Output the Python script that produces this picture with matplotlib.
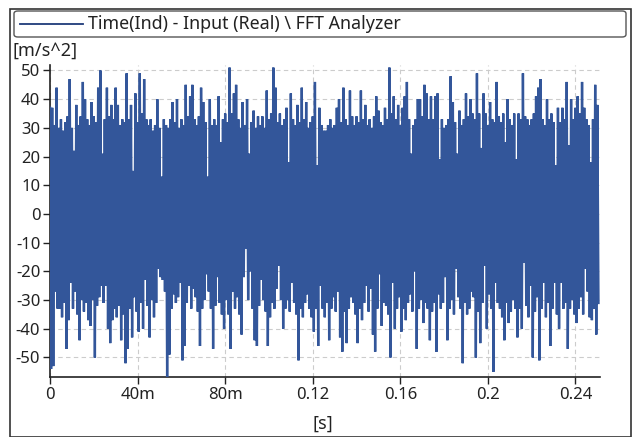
import numpy as np
import matplotlib
matplotlib.use("Agg")
import matplotlib.pyplot as plt
from matplotlib.patches import FancyBboxPatch, Rectangle
from matplotlib.lines import Line2D

# ---- data (1 ms bins) ----
upper = [37, 37, 31, 44, 30, 33, 29, 32, 34, 47, 30, 22, 38, 31, 34, 46, 40, 33, 31, 39,
         34, 32, 44, 50, 21, 33, 44, 34, 38, 33, 44, 38, 31, 33, 32, 49, 33, 38, 15, 42,
         32, 49, 35, 47, 33, 31, 33, 29, 31, 40, 30, 13, 33, 31, 30, 33, 39, 32, 40, 30,
         33, 31, 45, 34, 41, 45, 33, 31, 34, 44, 39, 32, 13, 40, 31, 33, 31, 41, 25, 33,
         35, 32, 51, 35, 42, 45, 33, 30, 39, 31, 40, 21, 32, 36, 30, 34, 31, 34, 30, 43,
         33, 35, 51, 44, 32, 35, 31, 33, 37, 18, 42, 33, 31, 38, 32, 44, 33, 39, 30, 32,
         34, 46, 17, 37, 31, 29, 29, 31, 33, 30, 31, 37, 40, 32, 44, 33, 31, 43, 34, 31,
         34, 32, 43, 33, 38, 31, 33, 30, 34, 41, 36, 32, 31, 37, 33, 51, 35, 41, 33, 38,
         31, 37, 41, 46, 33, 21, 31, 33, 40, 40, 34, 45, 42, 33, 41, 33, 41, 42, 19, 33,
         30, 31, 33, 48, 39, 32, 21, 36, 31, 33, 42, 34, 40, 35, 33, 49, 35, 23, 42, 35,
         31, 39, 33, 32, 46, 34, 32, 35, 25, 40, 33, 31, 35, 19, 35, 33, 49, 34, 33, 31,
         33, 35, 41, 44, 47, 33, 31, 40, 33, 35, 32, 17, 37, 32, 37, 33, 46, 24, 40, 33,
         37, 41, 35, 46, 37, 33, 31, 18, 33, 45, 38]
lower = [-54, -53, -27, -33, -33, -36, -31, -47, -37, -24, -33, -27, -35, -44, -30, -34, -31, -37, -39, -30,
         -50, -32, -29, -25, -31, -25, -40, -45, -37, -33, -36, -32, -44, -35, -52, -47, -33, -43, -29, -34,
         -41, -31, -40, -23, -32, -43, -30, -36, -31, -19, -22, -23, -27, -57, -49, -33, -28, -31, -29, -24,
         -51, -46, -31, -25, -33, -26, -29, -34, -46, -33, -30, -21, -27, -33, -47, -32, -22, -31, -35, -40,
         -30, -35, -47, -27, -33, -29, -35, -42, -22, -12, -30, -20, -33, -44, -46, -32, -23, -30, -34, -46,
         -36, -31, -33, -26, -18, -30, -40, -33, -30, -34, -24, -31, -35, -51, -33, -36, -31, -28, -33, -36,
         -41, -33, -46, -25, -33, -36, -31, -44, -33, -29, -34, -27, -43, -48, -34, -45, -33, -29, -31, -35,
         -45, -33, -37, -31, -25, -34, -26, -42, -48, -33, -21, -39, -31, -32, -35, -50, -24, -40, -33, -29,
         -41, -33, -37, -31, -28, -34, -20, -47, -33, -30, -38, -31, -33, -44, -34, -31, -48, -28, -33, -31,
         -22, -44, -33, -30, -35, -19, -29, -33, -52, -31, -35, -33, -27, -29, -50, -34, -45, -31, -18, -40,
         -28, -33, -55, -24, -31, -33, -36, -44, -31, -38, -34, -30, -33, -43, -33, -40, -17, -32, -36, -25,
         -50, -34, -29, -51, -33, -24, -36, -31, -46, -33, -24, -35, -40, -24, -33, -31, -47, -33, -30, -35,
         -38, -33, -29, -35, -19, -27, -36, -37, -33, -42, -31]
bin_ms = 1.0
x_ticks = [0, 0.04, 0.08, 0.12, 0.16, 0.2, 0.24]
x_ticklabels = ["0", "40m", "80m", "0.12", "0.16", "0.2", "0.24"]
y_ticks = [50, 40, 30, 20, 10, 0, -10, -20, -30, -40, -50]
legend_label = "Time(Ind) - Input (Real) \\ FFT Analyzer"

# ---- build sample sequence from the read extremes ----
n = len(upper)
t_hi = np.arange(n) * bin_ms / 1000.0
t_lo = t_hi + bin_ms / 2000.0
t = np.empty(2 * n)
y = np.empty(2 * n)
t[0::2] = t_hi
t[1::2] = t_lo
y[0::2] = upper
y[1::2] = lower

plt.rcParams['font.family'] = ['Noto Sans', 'DejaVu Sans']
W, H = 638, 437
fig = plt.figure(figsize=(W / 100, H / 100), dpi=100)
fig.patch.set_facecolor('white')

ax = fig.add_axes([50 / W, 1 - 377 / H, 550 / W, 312 / H])
ax.set_xlim(0, 0.2512)
ax.set_ylim(-56.8, 51.9)
ax.plot(t, y, color='#33569a', lw=1.7, zorder=3, solid_joinstyle='miter')

for s in ['top', 'right']:
    ax.spines[s].set_visible(False)
for s in ['left', 'bottom']:
    ax.spines[s].set_color('#222222')
    ax.spines[s].set_linewidth(1.2)
ax.set_xticks(x_ticks)
ax.set_xticklabels(x_ticklabels)
ax.set_yticks(y_ticks)
ax.set_yticklabels([str(v) for v in y_ticks])
ax.tick_params(axis='both', direction='out', length=5, width=1, color='#222222',
               labelsize=12, labelcolor='#222222', pad=2)
ax.grid(True, color='#cccccc', linestyle=(0, (4, 3)), linewidth=0.8, zorder=0)
ax.set_axisbelow(True)

fig.text(12 / W, 1 - 51 / H, "[m/s^2]", fontsize=13, color='#222222', va='center', ha='left')
fig.text(323 / W, 1 - 424 / H, "[s]", fontsize=13, color='#222222', va='center', ha='center')

# legend box
box = FancyBboxPatch((14 / W, 1 - 37 / H), 612 / W, 26 / H,
                     boxstyle="round,pad=0,rounding_size=0.006",
                     transform=fig.transFigure, facecolor='white',
                     edgecolor='#555555', linewidth=1.0)
fig.patches.append(box)
fig.lines.append(Line2D([20 / W, 83 / W], [1 - 24 / H, 1 - 24 / H], transform=fig.transFigure,
                        color='#1f3a7a', lw=1.3))
fig.text(88 / W, 1 - 24 / H, legend_label, fontsize=12.8, color='#222222', va='center', ha='left')

# outer frame
fig.patches.append(Rectangle((10 / W, 0.5 / H), 621 / W, 428 / H, transform=fig.transFigure,
                             fill=False, edgecolor='#333333', linewidth=1.2))

fig.savefig("out.png", dpi=100)
